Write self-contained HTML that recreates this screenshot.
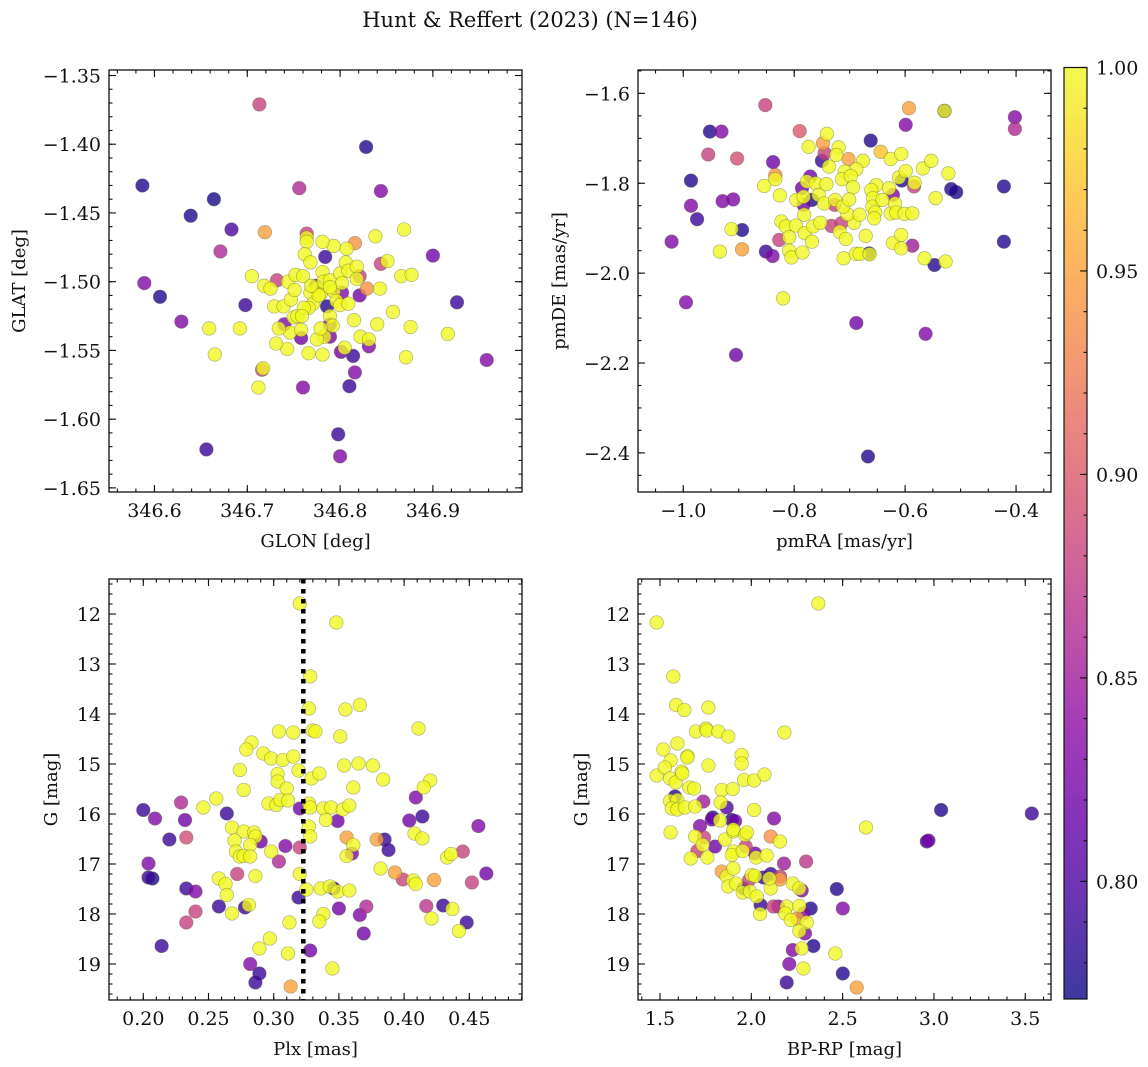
<!DOCTYPE html>
<html><head><meta charset="utf-8"><style>
html,body{margin:0;padding:0;background:#fff;}
svg{display:block;font-family:"DejaVu Serif","Liberation Serif",serif;}
</style></head><body>
<svg id="fig" width="1148" height="1067" viewBox="0 0 1148 1067" xmlns="http://www.w3.org/2000/svg">
<text x="530" y="27" font-size="21" text-anchor="middle" fill="#111">Hunt &amp; Reffert (2023) (N=146)</text>
</svg>
<script>
// ---------- data ----------
const p1Glon=[346.713,346.828,346.587,346.756,346.844,346.664,346.639,346.683,346.719,346.671,346.900,346.589,346.606,346.629,346.698,346.926,346.958,346.916,346.871,346.876,346.869,346.838,346.851,346.844,346.866,346.877,346.857,346.840,346.843,346.829,346.821,346.816,346.807,346.793,346.781,346.764,346.764,346.764,346.784,346.762,346.768,346.705,346.718,346.725,346.732,346.659,346.692,346.665,346.716,346.717,346.712,346.760,346.810,346.816,346.814,346.801,346.805,346.831,346.822,346.831,346.815,346.798,346.800,346.656,346.766,346.781,346.743,346.731,346.746,346.758,346.758,346.734,346.740,346.750,346.754,346.729,346.739,346.747,346.744,346.751,346.752,346.760,346.768,346.775,346.779,346.771,346.766,346.761,346.759,346.781,346.782,346.789,346.793,346.800,346.802,346.806,346.809,346.818,346.818,346.821,346.796,346.800,346.809,346.802,346.786,346.789,346.792,346.789,346.789,346.783,346.775,346.779,346.774,346.777,346.789,346.769];
const p1Glat=[-1.371,-1.402,-1.430,-1.432,-1.434,-1.440,-1.452,-1.462,-1.464,-1.478,-1.481,-1.501,-1.511,-1.529,-1.517,-1.515,-1.557,-1.538,-1.555,-1.533,-1.462,-1.467,-1.485,-1.487,-1.496,-1.495,-1.522,-1.531,-1.505,-1.505,-1.510,-1.472,-1.476,-1.474,-1.471,-1.465,-1.468,-1.471,-1.482,-1.480,-1.486,-1.496,-1.503,-1.505,-1.499,-1.534,-1.534,-1.553,-1.564,-1.563,-1.577,-1.577,-1.576,-1.566,-1.554,-1.551,-1.548,-1.547,-1.540,-1.542,-1.528,-1.611,-1.627,-1.622,-1.552,-1.553,-1.549,-1.545,-1.537,-1.541,-1.535,-1.534,-1.531,-1.526,-1.525,-1.518,-1.518,-1.513,-1.500,-1.506,-1.495,-1.496,-1.508,-1.505,-1.509,-1.516,-1.519,-1.519,-1.525,-1.493,-1.500,-1.499,-1.507,-1.494,-1.501,-1.486,-1.492,-1.489,-1.498,-1.496,-1.514,-1.517,-1.516,-1.508,-1.518,-1.525,-1.532,-1.531,-1.540,-1.540,-1.542,-1.534,-1.503,-1.510,-1.504,-1.503];
const p1Prob=[0.88,0.78,0.78,0.86,0.83,0.775,0.78,0.80,0.95,0.86,0.82,0.83,0.78,0.83,0.79,0.79,0.83,1,1,1,1,1,1,0.88,1,1,1,1,1,0.94,0.82,0.94,1,1,1,0.88,1,1,0.79,1,1,1,1,1,0.88,1,1,1,0.88,1,1,0.83,0.79,0.83,0.79,0.82,1,0.83,1,1,1,0.79,0.83,0.79,1,1,1,1,1,0.82,1,1,0.83,1,1,1,1,1,1,1,1,1,1,1,1,1,1,1,1,1,1,1,1,1,1,1,1,1,1,0.88,1,1,1,0.83,0.78,1,1,0.83,0.83,1,1,1,0.83,1,1,1];

const p2PmRA=[-0.852,-0.593,-0.529,-0.529,-0.402,-0.402,-0.952,-0.931,-0.790,-0.599,-0.955,-0.903,-0.838,-0.741,-0.774,-0.748,-0.745,-0.750,-0.737,-0.720,-0.724,-0.702,-0.676,-0.688,-0.709,-0.662,-0.644,-0.626,-0.607,-0.986,-0.834,-0.834,-0.854,-0.826,-0.771,-0.786,-0.777,-0.761,-0.742,-0.714,-0.698,-0.694,-0.652,-0.629,-0.606,-0.611,-0.599,-0.584,-0.583,-0.568,-0.553,-0.522,-0.517,-0.508,-0.422,-0.545,-0.986,-0.975,-0.929,-0.910,-0.913,-0.894,-0.934,-0.894,-1.021,-0.851,-0.839,-0.827,-0.823,-0.815,-0.809,-0.809,-0.805,-0.797,-0.785,-0.781,-0.768,-0.766,-0.753,-0.796,-0.783,-0.783,-0.782,-0.768,-0.756,-0.746,-0.727,-0.726,-0.733,-0.715,-0.718,-0.707,-0.711,-0.692,-0.704,-0.712,-0.701,-0.682,-0.671,-0.689,-0.682,-0.665,-0.664,-0.661,-0.658,-0.659,-0.654,-0.656,-0.641,-0.626,-0.622,-0.618,-0.616,-0.601,-0.587,-0.622,-0.607,-0.607,-0.587,-0.565,-0.547,-0.527,-0.422,-0.995,-0.820,-0.688,-0.563,-0.905,-0.667];
const p2PmDE=[-1.626,-1.633,-1.639,-1.639,-1.653,-1.679,-1.685,-1.685,-1.684,-1.670,-1.736,-1.745,-1.753,-1.690,-1.719,-1.711,-1.733,-1.750,-1.763,-1.720,-1.737,-1.746,-1.750,-1.769,-1.774,-1.705,-1.730,-1.746,-1.735,-1.794,-1.782,-1.791,-1.806,-1.827,-1.785,-1.811,-1.796,-1.800,-1.802,-1.791,-1.784,-1.809,-1.804,-1.811,-1.794,-1.787,-1.773,-1.807,-1.799,-1.767,-1.750,-1.778,-1.813,-1.820,-1.807,-1.833,-1.850,-1.880,-1.840,-1.836,-1.902,-1.904,-1.952,-1.947,-1.930,-1.952,-1.962,-1.926,-1.885,-1.896,-1.920,-1.950,-1.965,-1.894,-1.954,-1.911,-1.930,-1.896,-1.888,-1.837,-1.830,-1.848,-1.870,-1.837,-1.826,-1.845,-1.848,-1.837,-1.895,-1.889,-1.908,-1.924,-1.967,-1.888,-1.869,-1.852,-1.836,-1.870,-1.917,-1.957,-1.957,-1.956,-1.958,-1.815,-1.833,-1.852,-1.865,-1.878,-1.837,-1.867,-1.826,-1.845,-1.865,-1.868,-1.867,-1.933,-1.915,-1.945,-1.939,-1.967,-1.982,-1.974,-1.930,-2.065,-2.056,-2.111,-2.135,-2.182,-2.408];
const p2Prob=[0.88,0.95,0.78,1,0.83,0.86,0.78,0.83,0.90,0.83,0.88,0.89,0.82,1,1,0.95,0.88,0.79,1,1,1,0.95,1,1,1,0.78,0.97,1,1,0.78,0.94,1,1,1,0.82,0.82,1,1,1,1,1,1,1,1,0.78,1,1,0.88,1,1,1,1,0.78,0.775,0.78,1,0.83,0.79,0.83,0.83,1,0.78,1,0.95,0.83,0.79,0.83,0.88,1,1,1,1,1,1,1,1,1,1,1,1,1,0.82,1,0.78,1,1,0.88,1,0.88,0.88,1,1,1,1,1,1,1,1,1,1,1,0.78,1,1,1,1,1,1,1,1,0.83,1,1,1,1,1,1,1,0.85,1,0.78,1,0.78,0.83,1,0.82,0.83,0.82,0.78];

const p3Plx=[0.320,0.348,0.328,0.327,0.355,0.366,0.411,0.304,0.315,0.330,0.332,0.351,0.283,0.279,0.292,0.298,0.307,0.315,0.274,0.319,0.303,0.303,0.329,0.335,0.354,0.365,0.376,0.384,0.420,0.415,0.361,0.277,0.310,0.256,0.246,0.296,0.302,0.305,0.311,0.320,0.327,0.328,0.338,0.344,0.353,0.358,0.340,0.349,0.409,0.404,0.414,0.457,0.200,0.209,0.229,0.232,0.264,0.268,0.277,0.285,0.286,0.290,0.270,0.282,0.271,0.274,0.277,0.282,0.298,0.309,0.320,0.327,0.328,0.220,0.233,0.204,0.204,0.207,0.272,0.286,0.258,0.263,0.264,0.233,0.240,0.258,0.278,0.281,0.268,0.240,0.233,0.304,0.320,0.325,0.319,0.336,0.343,0.346,0.349,0.358,0.361,0.356,0.360,0.356,0.379,0.385,0.388,0.382,0.393,0.399,0.407,0.409,0.423,0.452,0.463,0.408,0.414,0.433,0.436,0.445,0.350,0.338,0.335,0.366,0.371,0.369,0.417,0.430,0.437,0.421,0.448,0.442,0.214,0.289,0.297,0.312,0.311,0.328,0.345,0.282,0.289,0.286,0.313];
const p3G=[11.79,12.17,13.25,13.89,13.91,13.82,14.29,14.35,14.37,14.33,14.35,14.45,14.57,14.71,14.79,14.89,14.92,14.85,15.12,15.13,15.20,15.35,15.29,15.19,15.03,14.99,15.03,15.31,15.33,15.47,15.47,15.52,15.49,15.69,15.87,15.79,15.82,15.72,15.73,15.89,15.79,15.87,15.89,15.87,15.91,15.83,16.12,16.14,15.67,16.13,16.05,16.24,15.92,16.09,15.77,16.12,15.99,16.27,16.35,16.37,16.45,16.55,16.53,16.62,16.75,16.85,16.84,16.85,16.75,16.64,16.67,16.25,16.45,16.51,16.47,16.99,17.27,17.29,17.20,17.24,17.29,17.40,17.62,17.49,17.55,17.85,17.87,17.82,17.99,17.95,18.17,16.95,17.20,17.51,17.67,17.49,17.45,17.49,17.55,17.53,16.62,16.47,16.79,16.84,16.51,16.51,16.72,17.09,17.17,17.31,17.33,17.40,17.32,17.37,17.19,16.39,16.49,16.87,16.80,16.75,17.89,18.00,18.15,18.02,17.85,18.39,17.84,17.83,17.90,18.09,18.17,18.34,18.64,18.69,18.49,18.17,18.79,18.73,19.09,19.00,19.19,19.37,19.45];
const p3Prob=[1,1,1,1,1,1,1,1,1,1,1,1,1,1,1,1,1,1,1,1,1,1,1,1,1,1,1,1,1,1,1,1,1,1,1,1,1,1,1,0.82,1,1,1,1,1,1,1,0.82,0.83,0.82,0.79,0.83,0.79,0.83,0.86,0.82,0.79,1,1,1,1,0.82,1,1,1,1,1,1,1,0.83,0.88,1,1,0.79,0.89,0.83,0.79,0.775,0.88,1,1,1,1,0.79,0.83,0.79,0.79,1,1,0.88,0.88,0.86,1,1,0.79,1,1,0.79,1,1,1,0.95,0.83,1,0.95,0.79,0.79,1,0.95,0.88,1,1,0.95,0.88,0.82,1,1,1,1,0.88,0.82,1,1,0.83,0.86,0.82,0.87,0.79,1,1,0.79,1,0.79,1,1,1,1,0.82,1,0.83,0.79,0.79,0.95];

const p4BpRp=[1.482,2.367,1.573,1.588,1.633,1.765,1.697,1.752,1.756,1.820,1.874,2.181,1.518,1.595,1.558,1.650,1.650,1.765,1.947,1.947,1.482,1.527,1.555,1.586,1.619,1.622,1.661,1.686,1.838,1.898,1.960,2.015,2.072,1.582,1.555,1.595,1.564,1.595,1.637,1.692,1.737,1.832,1.865,2.015,1.789,1.783,1.829,1.893,1.911,2.124,1.719,1.558,1.692,1.741,1.734,1.801,1.759,1.668,1.705,1.856,1.902,1.902,1.966,1.975,2.106,2.157,1.969,1.902,1.893,1.953,2.020,2.026,2.084,2.179,2.300,1.838,1.865,1.874,1.902,1.916,1.957,1.953,1.988,2.002,2.020,2.066,2.106,2.106,2.099,2.157,2.157,1.993,2.030,2.051,2.048,2.121,2.148,2.194,2.185,2.227,2.263,2.276,2.216,2.252,2.263,2.285,2.325,2.303,2.263,2.294,2.468,2.501,2.340,2.227,2.276,2.460,2.208,2.285,2.194,2.501,2.577,2.628,2.970,2.961,3.039,3.536];
const p4G=[12.17,11.79,13.25,13.82,13.92,13.87,14.35,14.29,14.33,14.35,14.45,14.37,14.71,14.59,14.93,14.84,14.87,15.03,14.82,14.99,15.23,15.07,15.29,15.37,15.15,15.19,15.47,15.49,15.52,15.50,15.32,15.33,15.21,15.65,15.74,15.72,15.89,15.91,15.87,15.85,15.75,15.77,15.87,15.92,16.07,16.11,16.13,16.12,16.14,16.09,16.24,16.37,16.45,16.47,16.62,16.65,16.87,16.89,16.74,16.51,16.35,16.31,16.42,16.37,16.45,16.55,16.65,16.75,16.82,16.74,16.79,16.87,16.83,16.99,16.95,17.15,17.25,17.45,17.09,17.39,17.49,17.57,17.32,17.22,17.24,17.27,17.20,17.49,17.29,17.31,17.25,17.55,17.65,17.82,18.00,17.85,17.85,17.85,17.99,17.39,17.49,17.53,18.12,18.09,17.84,17.99,17.89,18.17,18.34,18.39,17.50,17.89,18.64,18.72,18.69,18.79,19.00,19.09,19.37,19.19,19.47,16.27,16.53,16.55,15.92,15.99];
const p4Prob=[1,1,1,1,1,1,1,1,1,1,1,1,1,1,1,1,1,1,1,1,1,1,1,1,1,1,1,1,1,1,1,1,1,0.78,1,1,1,1,1,1,0.85,1,0.80,1,0.78,0.82,1,0.78,0.82,0.83,0.83,1,1,0.88,1,0.82,1,1,0.88,1,1,1,1,1,0.94,1,0.88,1,1,1,0.82,1,1,0.85,0.87,0.95,1,1,1,1,0.80,1,0.88,1,1,0.79,0.79,1,1,0.95,0.88,1,1,0.79,1,0.88,0.83,1,1,1,1,0.83,1,0.95,1,0.83,0.78,1,1,0.83,0.78,0.83,0.78,0.83,1,1,0.83,1,0.79,0.78,0.95,1,0.82,0.80,0.78,0.79];

const p1XTicks=[346.6,346.7,346.8,346.9];
const p1XLabels=["346.6","346.7","346.8","346.9"];
const p1YTicks=[-1.35,-1.40,-1.45,-1.50,-1.55,-1.60,-1.65];
const p1YLabels=["\u22121.35","\u22121.40","\u22121.45","\u22121.50","\u22121.55","\u22121.60","\u22121.65"];
const p2XTicks=[-1.0,-0.8,-0.6,-0.4];
const p2XLabels=["\u22121.0","\u22120.8","\u22120.6","\u22120.4"];
const p2YTicks=[-1.6,-1.8,-2.0,-2.2,-2.4];
const p2YLabels=["\u22121.6","\u22121.8","\u22122.0","\u22122.2","\u22122.4"];
const p3XTicks=[0.20,0.25,0.30,0.35,0.40,0.45];
const p3XLabels=["0.20","0.25","0.30","0.35","0.40","0.45"];
const gTicks=[12,13,14,15,16,17,18,19];
const gLabels=["12","13","14","15","16","17","18","19"];
const p4XTicks=[1.5,2.0,2.5,3.0,3.5];
const p4XLabels=["1.5","2.0","2.5","3.0","3.5"];
const cbTicks=[1.00,0.95,0.90,0.85,0.80];
const cbLabels=["1.00","0.95","0.90","0.85","0.80"];
const plxRef=[0.3227];

// ---------- rendering ----------
const NS="http://www.w3.org/2000/svg";
const svg=document.getElementById('fig');
const VMIN=0.7711, VMAX=1.0;
const FS=19;
const plasma=[[13,8,135],[65,4,157],[106,0,168],[143,13,164],[177,42,144],[204,71,120],[225,100,98],[242,132,75],[252,166,54],[252,206,37],[240,249,33]];
function cmap(v){
  let t=(v-VMIN)/(VMAX-VMIN); t=Math.max(0,Math.min(1,t));
  const f=t*10, i=Math.min(9,Math.floor(f)), r=f-i;
  const a=plasma[i], b=plasma[i+1];
  return 'rgb('+[0,1,2].map(k=>Math.round(a[k]+(b[k]-a[k])*r)).join(',')+')';
}
function mk(tag,attrs,parent){const e=document.createElementNS(NS,tag);for(const k in attrs)e.setAttribute(k,attrs[k]);(parent||svg).appendChild(e);return e;}

function panel(cfg){
  const g=mk('g',{});
  
  
  const sx=v=>cfg.x0+(v-cfg.xmin)/(cfg.xmax-cfg.xmin)*(cfg.x1-cfg.x0);
  const sy=cfg.invert ? (v=>cfg.y0+(v-cfg.ymin)/(cfg.ymax-cfg.ymin)*(cfg.y1-cfg.y0))
                      : (v=>cfg.y1-(v-cfg.ymin)/(cfg.ymax-cfg.ymin)*(cfg.y1-cfg.y0));
  const pts=mk('g',{},g);
  
  
  const idx=cfg.xs.map((_,i)=>i).sort((a,b)=>cfg.cs[a]-cfg.cs[b]);
  idx.forEach(i=>{
    const c=mk('circle',{cx:sx(cfg.xs[i]).toFixed(1),cy:sy(cfg.ys[i]).toFixed(1),r:6.8,fill:cmap(cfg.cs[i]),'fill-opacity':0.8,stroke:'#5a5a3a','stroke-opacity':0.45,'stroke-width':0.7},pts);
    
    
  });
  if(cfg.vline){
    cfg.vline.forEach(v=>{
      const l=mk('line',{x1:sx(v),x2:sx(v),y1:cfg.y0,y2:cfg.y1,stroke:'#000','stroke-width':4.5,'stroke-dasharray':'4.5 5.5'},g);
      
      
    });
  }
  const frame=mk('rect',{x:cfg.x0,y:cfg.y0,width:cfg.x1-cfg.x0,height:cfg.y1-cfg.y0,fill:'none',stroke:'#111','stroke-width':1.3},g);
  
  
  const tk=mk('g',{stroke:'#111','stroke-width':1.1},g);
  function tickRange(min,max,step){const a=[];const s=Math.ceil(min/step-1e-6);for(let k=s;k*step<=max+1e-9;k++)a.push(k*step);return a;}
  tickRange(cfg.xmin,cfg.xmax,cfg.xminor).forEach(v=>{const x=sx(v);mk('line',{x1:x,x2:x,y1:cfg.y1,y2:cfg.y1-3.5},tk);mk('line',{x1:x,x2:x,y1:cfg.y0,y2:cfg.y0+3.5},tk);});
  tickRange(cfg.ymin,cfg.ymax,cfg.yminor).forEach(v=>{const y=sy(v);mk('line',{x1:cfg.x0,x2:cfg.x0+3.5,y1:y,y2:y},tk);mk('line',{x1:cfg.x1,x2:cfg.x1-3.5,y1:y,y2:y},tk);});
  cfg.xt.forEach((v,i)=>{const x=sx(v);mk('line',{x1:x,x2:x,y1:cfg.y1,y2:cfg.y1-7},tk);mk('line',{x1:x,x2:x,y1:cfg.y0,y2:cfg.y0+7},tk);
    const t=mk('text',{x:x,y:cfg.y1+25,'font-size':FS,'text-anchor':'middle',fill:'#111'},g);t.textContent=cfg.xl[i];
    
    });
  cfg.yt.forEach((v,i)=>{const y=sy(v);mk('line',{x1:cfg.x0,x2:cfg.x0+7,y1:y,y2:y},tk);mk('line',{x1:cfg.x1,x2:cfg.x1-7,y1:y,y2:y},tk);
    const t=mk('text',{x:cfg.x0-8,y:y+7,'font-size':FS,'text-anchor':'end',fill:'#111'},g);t.textContent=cfg.yl[i];
    
    });
  const xl=mk('text',{x:(cfg.x0+cfg.x1)/2,y:cfg.y1+55,'font-size':18,'text-anchor':'middle',fill:'#111'},g);xl.textContent=cfg.xlabel;
  
  
  const cy=(cfg.y0+cfg.y1)/2;
  const yl=mk('text',{x:cfg.ylx,y:cy,'font-size':18,'text-anchor':'middle',fill:'#111',transform:'rotate(-90 '+cfg.ylx+' '+cy+')'},g);yl.textContent=cfg.ylabel;
  
  
}

panel({name:'position-panel',x0:109,x1:522,y0:70,y1:492,xmin:346.551,xmax:346.996,ymin:-1.653,ymax:-1.346,xs:p1Glon,ys:p1Glat,cs:p1Prob,xt:p1XTicks,xl:p1XLabels,yt:p1YTicks,yl:p1YLabels,xminor:0.02,yminor:0.01,xlabel:'GLON [deg]',ylabel:'GLAT [deg]',ylx:25});
panel({name:'proper-motion-panel',x0:638,x1:1051,y0:70,y1:492,xmin:-1.0816,xmax:-0.337,ymin:-2.487,ymax:-1.548,xs:p2PmRA,ys:p2PmDE,cs:p2Prob,xt:p2XTicks,xl:p2XLabels,yt:p2YTicks,yl:p2YLabels,xminor:0.05,yminor:0.05,xlabel:'pmRA [mas/yr]',ylabel:'pmDE [mas/yr]',ylx:565});
panel({name:'parallax-panel',x0:109,x1:522,y0:579,y1:1000,xmin:0.1737,xmax:0.4904,ymin:11.30,ymax:19.72,invert:true,xs:p3Plx,ys:p3G,cs:p3Prob,xt:p3XTicks,xl:p3XLabels,yt:gTicks,yl:gLabels,xminor:0.01,yminor:0.2,xlabel:'Plx [mas]',ylabel:'G [mag]',ylx:57,vline:plxRef});
panel({name:'cmd-panel',x0:638,x1:1051,y0:579,y1:1000,xmin:1.3795,xmax:3.641,ymin:11.30,ymax:19.72,invert:true,xs:p4BpRp,ys:p4G,cs:p4Prob,xt:p4XTicks,xl:p4XLabels,yt:gTicks,yl:gLabels,xminor:0.1,yminor:0.2,xlabel:'BP-RP [mag]',ylabel:'G [mag]',ylx:587});

// colorbar
(function(){
  const X0=1064,X1=1087,Y0=67.5,Y1=999;
  const cy=v=>Y1-(v-VMIN)/(VMAX-VMIN)*(Y1-Y0);
  const g=mk('g',{});
  
  
  const defs=mk('defs',{},g);
  const lg=mk('linearGradient',{id:'cbg',x1:0,y1:1,x2:0,y2:0},defs);
  for(let k=0;k<=20;k++){const v=VMIN+(VMAX-VMIN)*k/20;mk('stop',{offset:(k/20),'stop-color':cmap(v),'stop-opacity':0.8},lg);}
  const r=mk('rect',{x:X0,y:Y0,width:X1-X0,height:Y1-Y0,fill:'url(#cbg)',stroke:'#111','stroke-width':1.2},g);
  
  
  for(let v=0.78;v<=1.0001;v+=0.01){const y=cy(v);mk('line',{x1:X1,x2:X1-3.5,y1:y,y2:y,stroke:'#111','stroke-width':1.1},g);}
  cbTicks.forEach((v,i)=>{const y=cy(v);mk('line',{x1:X1,x2:X1-7,y1:y,y2:y,stroke:'#111','stroke-width':1.1},g);
    const t=mk('text',{x:X1+9,y:y+7,'font-size':FS,fill:'#111'},g);t.textContent=cbLabels[i];
    
    });
})();
</script>
</body></html>
